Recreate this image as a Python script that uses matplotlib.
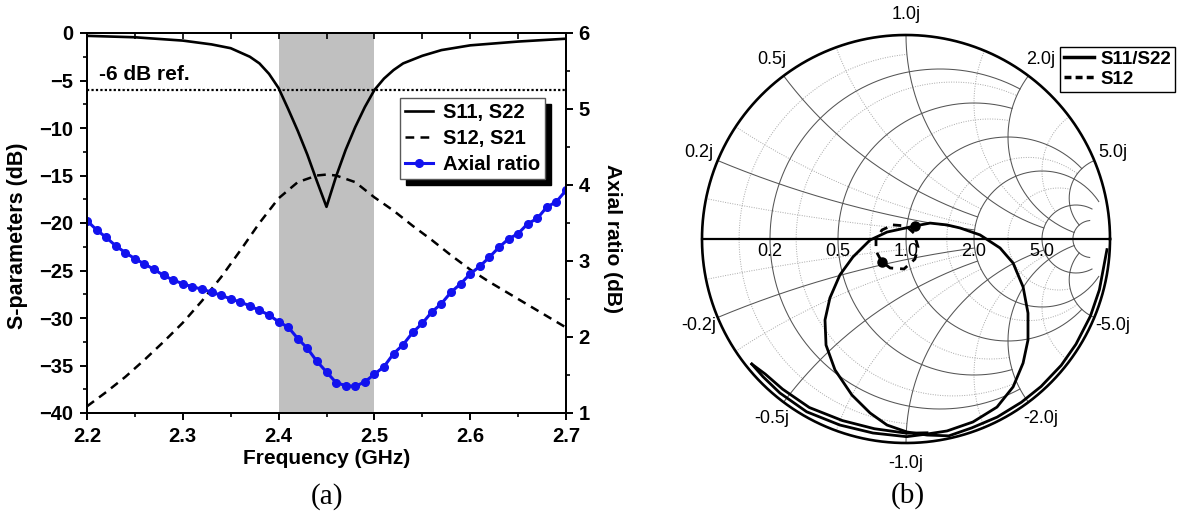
import numpy as np
import matplotlib
matplotlib.use("Agg")
import matplotlib.pyplot as plt
from matplotlib.lines import Line2D
from matplotlib.patches import Shadow
from matplotlib.ticker import MultipleLocator, FormatStrFormatter

plt.rcParams['font.family'] = ['Liberation Sans', 'DejaVu Sans']
plt.rcParams['font.weight'] = 'bold'
plt.rcParams['axes.labelweight'] = 'bold'

# ---- (a) S-parameters / axial ratio vs frequency ----------------------------
freq_s11 = [2.20, 2.25, 2.30, 2.33, 2.35, 2.37, 2.38, 2.39, 2.40, 2.41, 2.42, 2.43,
            2.44, 2.45, 2.46, 2.47, 2.48, 2.49, 2.50, 2.51, 2.52, 2.53, 2.55, 2.57,
            2.60, 2.65, 2.70]
s11_db = [-0.3, -0.45, -0.8, -1.2, -1.6, -2.5, -3.2, -4.3, -5.8, -8.0, -10.3, -12.8,
          -15.6, -18.3, -15.1, -12.3, -9.9, -7.8, -6.0, -4.8, -3.9, -3.2, -2.4, -1.8,
          -1.3, -0.9, -0.6]

freq_s12 = [2.20, 2.22, 2.24, 2.26, 2.28, 2.30, 2.32, 2.34, 2.36, 2.38, 2.40, 2.42,
            2.44, 2.45, 2.46, 2.48, 2.50, 2.52, 2.54, 2.56, 2.58, 2.60, 2.62, 2.64,
            2.66, 2.68, 2.70]
s12_db = [-39.3, -37.8, -36.2, -34.4, -32.5, -30.5, -28.2, -25.7, -22.9, -20.0, -17.4,
          -15.7, -15.0, -14.9, -15.0, -15.7, -17.3, -18.7, -20.3, -21.8, -23.4, -24.9,
          -26.2, -27.4, -28.6, -29.8, -31.0]

freq_ar = [round(2.20 + 0.01 * i, 2) for i in range(51)]
ar_db = [3.53, 3.41, 3.31, 3.20, 3.11, 3.03, 2.96, 2.89, 2.81, 2.75,
         2.70, 2.66, 2.63, 2.59, 2.55, 2.50, 2.46, 2.41, 2.35, 2.29,
         2.20, 2.13, 1.98, 1.85, 1.68, 1.54, 1.40, 1.36, 1.35, 1.41,
         1.51, 1.61, 1.78, 1.90, 2.06, 2.18, 2.33, 2.44, 2.59, 2.70,
         2.83, 2.93, 3.05, 3.18, 3.29, 3.36, 3.49, 3.56, 3.71, 3.78, 3.93]

band = [2.4, 2.5]
ref_db = -6

# ---- (b) Smith chart traces (reflection coefficient, re / im) ----------------
s11_re = [-0.756, -0.701, -0.618, -0.487, -0.324, -0.162, 0.003, 0.103,
          0.201, 0.328, 0.446, 0.525, 0.574, 0.598, 0.598, 0.574, 0.525, 0.461,
          0.363, 0.265, 0.201, 0.118, 0.044, -0.093, -0.176, -0.260, -0.324,
          -0.373, -0.397, -0.392, -0.348, -0.265, -0.176, -0.093, 0.005, 0.103,
          0.210, 0.322, 0.447, 0.566, 0.662, 0.761, 0.833, 0.904, 0.948, 0.973, 0.985]
s11_im = [-0.613, -0.675, -0.755, -0.847, -0.912, -0.951, -0.969, -0.956,
          -0.941, -0.897, -0.824, -0.725, -0.608, -0.495, -0.363, -0.235, -0.118, -0.044,
          0.020, 0.054, 0.069, 0.078, 0.064, 0.034, -0.005, -0.088, -0.176,
          -0.289, -0.397, -0.520, -0.642, -0.765, -0.853, -0.912, -0.946, -0.961,
          -0.965, -0.926, -0.873, -0.800, -0.723, -0.619, -0.516, -0.378, -0.249, -0.116, -0.052]
s22_re = [-0.756, -0.690, -0.605, -0.474, -0.312, -0.155, 0.003, 0.103]
s22_im = [-0.613, -0.662, -0.736, -0.826, -0.890, -0.930, -0.952, -0.950]

s12_re = [-0.064, 0.000, 0.039, 0.059, 0.044, -0.010, -0.078, -0.119, -0.147, -0.147, -0.118, -0.064]
s12_im = [0.069, 0.064, 0.029, -0.039, -0.098, -0.147, -0.142, -0.111, -0.059, -0.005, 0.044, 0.069]

dot_re = [0.044, -0.119]
dot_im = [0.064, -0.111]

# smith grid values and where each circle/arc stops
grid_major = [0.2, 0.5, 1.0, 2.0, 5.0, 10.0]
grid_major_end = [2.0, 2.0, 5.0, 10.0, 10.0, 10.0]
grid_minor = [0.1, 0.3, 0.7, 1.5, 3.0]
grid_minor_end = [1.0, 2.0, 2.0, 5.0, 5.0]
r_labels = ['0.2', '0.5', '1.0', '2.0', '5.0']
x_labels = ['0.2j', '0.5j', '1.0j', '2.0j', '5.0j', '-0.2j', '-0.5j', '-1.0j', '-2.0j', '-5.0j']

W, H = 1177, 519
fig = plt.figure(figsize=(W / 100, H / 100), dpi=100)

ax = fig.add_axes([87 / W, 106 / H, 479 / W, 380 / H])
ax.axvspan(*band, color='#c0c0c0', lw=0, zorder=0)
ax.axhline(ref_db, color='k', ls=(0, (1, 1)), lw=1.6)
l11, = ax.plot(freq_s11, s11_db, color='k', lw=1.9)
l12, = ax.plot(freq_s12, s12_db, color='k', lw=1.8, ls=(0, (3.5, 2.5)))
ax.text(2.213, -4.4, '-6 dB ref.', fontsize=15, va='center', ha='left')
ax.set_xlim(2.2, 2.7)
ax.set_ylim(-40, 0)
ax.xaxis.set_major_locator(MultipleLocator(0.1))
ax.xaxis.set_minor_locator(MultipleLocator(0.05))
ax.xaxis.set_major_formatter(FormatStrFormatter('%.1f'))
ax.yaxis.set_major_locator(MultipleLocator(5))
ax.yaxis.set_minor_locator(MultipleLocator(2.5))
ax.tick_params(which='major', direction='out', length=5, width=1.4, labelsize=14.5, pad=5)
ax.tick_params(which='minor', direction='out', length=3, width=1.2)
ax.set_xlabel('Frequency (GHz)', fontsize=15, fontweight='bold', va='center')
ax.xaxis.set_label_coords(0.501, -0.121)
ax.set_ylabel('S-parameters (dB)', fontsize=15.5, fontweight='bold', va='center')
ax.yaxis.set_label_coords(-0.146, 0.466)

# top axis: short inward ticks every 0.05, no labels
top = ax.secondary_xaxis('top')
top.xaxis.set_major_locator(MultipleLocator(0.05))
top.tick_params(direction='in', length=4, width=1.2, labeltop=False)
top.spines['top'].set_linewidth(1.4)

ax2 = ax.twinx()
lar, = ax2.plot(freq_ar, ar_db, '-o', color='#1212ee', lw=2.2, ms=5.5, mec='#1212ee')
ax2.set_ylim(1, 6)
ax2.yaxis.set_major_locator(MultipleLocator(1))
ax2.yaxis.set_minor_locator(MultipleLocator(0.5))
ax2.tick_params(axis='y', which='major', direction='out', length=5, width=1.4, labelsize=14.5, pad=4)
ax2.tick_params(axis='y', which='minor', direction='out', length=3, width=1.2)
ax2.set_ylabel('Axial ratio (dB)', fontsize=15, fontweight='bold', rotation=270, va='center')
ax2.yaxis.set_label_coords(1.098, 0.458)
for a in (ax, ax2):
    for s in a.spines.values():
        s.set_linewidth(1.4)

leg = ax2.legend([l11, l12, lar], ['S11, S22', 'S12, S21', 'Axial ratio'],
                 loc='upper left', bbox_to_anchor=(400 / W, 1 - 98 / H),
                 bbox_transform=fig.transFigure, fontsize=14.5, fancybox=False,
                 edgecolor='0.35', framealpha=1, handlelength=1.4, handletextpad=0.5,
                 labelspacing=0.35, borderpad=0.25, borderaxespad=0)
leg.get_frame().set_linewidth(1.0)

# ---- (b) Smith chart ---------------------------------------------------------
def gamma(z):
    return (z - 1) / (z + 1)

sm = fig.add_axes([(906 - 1.2 * 204) / W, (H - 239 - 1.25 * 204) / H,
                   2.4 * 204 / W, 2.38 * 204 / H])
sm.set_xlim(-1.2, 1.2)
sm.set_ylim(-1.25, 1.13)
sm.axis('off')

def r_circle(r, xend, **kw):
    t = np.linspace(-np.arctan(xend), np.arctan(xend), 400)
    g = gamma(r + 1j * np.tan(t))
    sm.plot(g.real, g.imag, **kw)

def x_arc(x, rend, **kw):
    t = np.linspace(0, np.arctan(rend), 400)
    g = gamma(np.tan(t) + 1j * x)
    sm.plot(g.real, g.imag, **kw)

minor_kw = dict(color='#a8a8a8', lw=0.7, ls=(0, (1, 1.5)), zorder=1)
major_kw = dict(color='#555555', lw=0.75, zorder=2)
for v, e in zip(grid_minor, grid_minor_end):
    r_circle(v, e, **minor_kw)
    x_arc(v, e, **minor_kw)
    x_arc(-v, e, **minor_kw)
for v, e in zip(grid_major, grid_major_end):
    r_circle(v, e, **major_kw)
    if v < 10:
        x_arc(v, e, **major_kw)
        x_arc(-v, e, **major_kw)

ang = np.linspace(0, 2 * np.pi, 600)
sm.plot(np.cos(ang), np.sin(ang), color='k', lw=1.9, zorder=3)
sm.plot([-1, 1], [0, 0], color='k', lw=1.6, zorder=3)

for lab in r_labels:
    sm.text(gamma(float(lab)), -0.06, lab, fontsize=13, fontweight='normal',
            ha='center', va='center', zorder=4)
for lab in x_labels:
    p = 1.1 * gamma(1j * float(lab[:-1]))
    sm.text(p.real, p.imag, lab, fontsize=13, fontweight='normal',
            ha='center', va='center', zorder=4)

ls11, = sm.plot(s11_re, s11_im, color='k', lw=2.0, zorder=5, solid_joinstyle='round')
sm.plot(s22_re, s22_im, color='k', lw=2.0, zorder=5, solid_joinstyle='round')
ls12, = sm.plot(s12_re, s12_im, color='k', lw=2.0, ls=(0, (3, 2.5)), zorder=5)
sm.plot(dot_re, dot_im, 'o', color='k', ms=6.5, zorder=6)

fig.legend([Line2D([], [], color='k', lw=2.5), Line2D([], [], color='k', lw=2.5, ls=(0, (2, 1.2)))],
           ['S11/S22', 'S12'], loc='upper left', bbox_to_anchor=(1060 / W, 1 - 47 / H),
           fontsize=13.5, fancybox=False, edgecolor='k', framealpha=1, handlelength=1.6,
           handletextpad=0.35, labelspacing=0.15, borderpad=0.2, borderaxespad=0)

fig.text(327 / W, 1 - 497 / H, '(a)', fontsize=21, fontweight='normal',
         family=['Liberation Serif', 'DejaVu Serif'], ha='center', va='center')
fig.text(908 / W, 1 - 496 / H, '(b)', fontsize=21, fontweight='normal',
         family=['Liberation Serif', 'DejaVu Serif'], ha='center', va='center')

# legend drop shadow (black, offset down-right)
fig.canvas.draw()
sh = Shadow(leg.legendPatch, 4.3, -4.3, facecolor='k', edgecolor='k', alpha=1, zorder=4.9)
sh.set_clip_on(False)
ax2.add_artist(sh)

fig.savefig('out.png', dpi=100)
